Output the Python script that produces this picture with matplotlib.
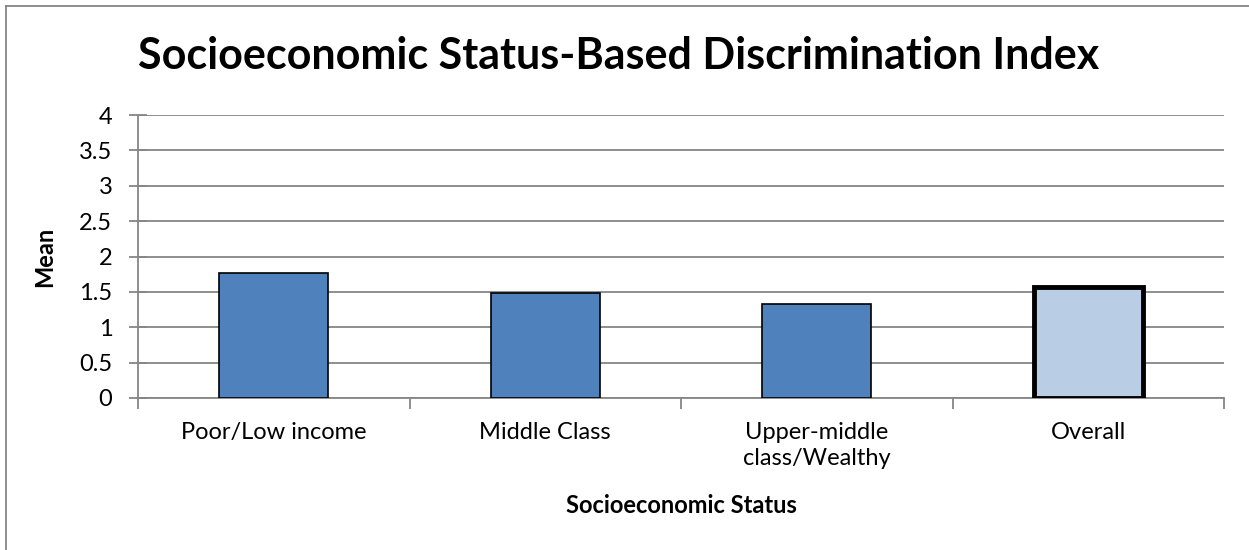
import matplotlib.pyplot as plt
from matplotlib.lines import Line2D
import numpy as np

plt.rcParams['font.family'] = ['Lato', 'DejaVu Sans']

categories = ['Poor/Low income', 'Middle Class', 'Upper-middle\nclass/Wealthy', 'Overall']
means = [1.76, 1.49, 1.33, 1.57]
colors = ['#4F81BD', '#4F81BD', '#4F81BD', '#B9CDE5']
edge_widths = [1.2, 1.2, 1.2, 3.5]
yticks = [0, 0.5, 1, 1.5, 2, 2.5, 3, 3.5, 4]
ytick_labels = ['0', '0.5', '1', '1.5', '2', '2.5', '3', '3.5', '4']

grid_grey = '#868686'
W, H = 1249, 550

fig = plt.figure(figsize=(W / 100, H / 100), dpi=100)
# chart-area frame: only the top and left edges fall inside the image
fig.lines.append(Line2D([5.5 / W, 1], [1 - 5.5 / H, 1 - 5.5 / H], transform=fig.transFigure,
                        color=grid_grey, linewidth=1.3))
fig.lines.append(Line2D([5.5 / W, 5.5 / W], [0, 1 - 5.5 / H], transform=fig.transFigure,
                        color=grid_grey, linewidth=1.3))

ax = fig.add_axes([138 / W, 1 - 398 / H, (1224 - 138) / W, (398 - 115) / H])

x = np.arange(len(categories))
ax.bar(x, means, width=0.4, color=colors, edgecolor='black',
       linewidth=edge_widths, zorder=3)

ax.set_xlim(-0.5, len(categories) - 0.5)
ax.set_ylim(0, 4)
ax.set_yticks(yticks)
ax.set_yticklabels(ytick_labels, fontsize=17)
ax.yaxis.grid(True, color=grid_grey, linewidth=1.3, zorder=0)

# category labels centred under bars, tick marks between categories
ax.set_xticks(x)
ax.set_xticklabels(categories, fontsize=17, linespacing=1.3)
ax.tick_params(axis='x', which='major', length=0, pad=17)
ax.set_xticks(np.arange(-0.5, len(categories)), minor=True)
ax.tick_params(axis='x', which='minor', length=8, width=1.3, color=grid_grey,
               direction='out')
ax.tick_params(axis='y', length=13, width=1.3, color=grid_grey, direction='inout', pad=12)

for side in ('top', 'right'):
    ax.spines[side].set_visible(False)
for side in ('left', 'bottom'):
    ax.spines[side].set_color(grid_grey)
    ax.spines[side].set_linewidth(1.3)

ax.set_xlabel('Socioeconomic Status', fontsize=17, fontweight='bold', labelpad=18)
ax.set_ylabel('Mean', fontsize=17, fontweight='bold')
ax.yaxis.set_label_coords((56 - 138) / (1224 - 138), 0.5)
fig.text(0.495, 1 - 56 / H, 'Socioeconomic Status-Based Discrimination Index',
         ha='center', va='center', fontsize=31, fontweight='bold')

fig.savefig('out.png', dpi=100)
